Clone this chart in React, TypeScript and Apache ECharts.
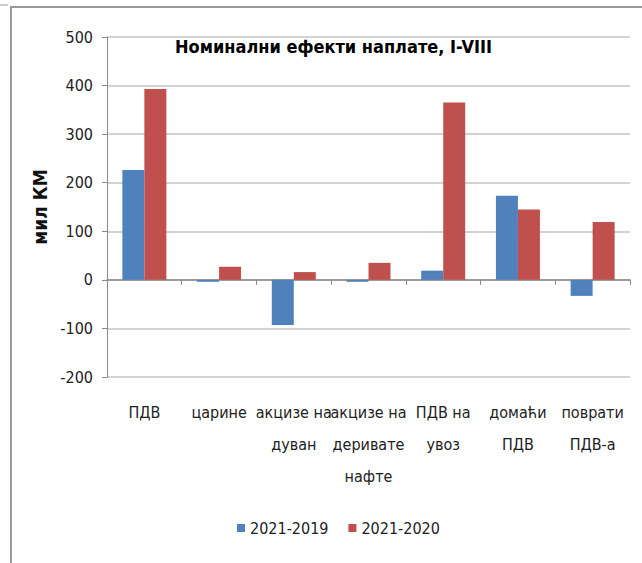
import React, { useEffect, useRef } from "react";
import * as echarts from "echarts";

const categories = [
  "ПДВ",
  "царине",
  "акцизе на\nдуван",
  "акцизе на\nдеривате\nнафте",
  "ПДВ на\nувоз",
  "домаћи\nПДВ",
  "поврати\nПДВ-а",
];
const series2019 = [226, -4, -93, -4, 19, 173, -33];
const series2020 = [393, 27, 16, 35, 365, 145, 119];
const seriesNames = ["2021-2019", "2021-2020"];
const titleText = "Номинални ефекти наплате, I-VIII";
const yName = "мил КМ";

const FONT = "'Liberation Sans Narrow', 'DejaVu Sans Condensed', 'Arial Narrow', sans-serif";

export default function App() {
  const ref = useRef<HTMLDivElement>(null);
  useEffect(() => {
    document.body.style.margin = "0";
    const chart = echarts.init(ref.current!, null, { renderer: "svg" });
    chart.setOption({
      animation: false,
      backgroundColor: "#ffffff",
      textStyle: { fontFamily: FONT },
      graphic: [
        { type: "line", shape: { x1: 10, y1: 7, x2: 642, y2: 7 }, style: { stroke: "#9a9a9a", lineWidth: 2 } },
        { type: "line", shape: { x1: 11, y1: 7, x2: 11, y2: 563 }, style: { stroke: "#9a9a9a", lineWidth: 2 } },
        { type: "line", shape: { x1: 0, y1: 5, x2: 8, y2: 5 }, style: { stroke: "#9a9a9a", lineWidth: 1 } },
        {
          type: "text",
          left: 175,
          top: 37,
          style: { text: titleText, fontSize: 18, fontWeight: "bold", fontFamily: FONT, fill: "#000" },
          z: 10,
        },
      ],
      legend: {
        left: 232,
        top: 515,
        itemWidth: 8,
        itemHeight: 8,
        itemGap: 20,
        icon: "rect",
        textStyle: { fontSize: 16, color: "#222", fontFamily: FONT },
        data: seriesNames,
      },
      grid: { left: 107, right: 12, top: 37, bottom: 186 },
      xAxis: [
        {
          type: "category",
          data: categories,
          position: "bottom",
          axisLine: { show: false, onZero: false },
          axisTick: { show: false },
          axisLabel: {
            interval: 0,
            hideOverlap: false,
            fontSize: 16,
            lineHeight: 32,
            margin: 19,
            color: "#222",
            fontFamily: FONT,
          },
        },
        {
          type: "category",
          data: categories,
          position: "top",
          axisLine: { show: true, onZero: true, lineStyle: { color: "#8a8a8a", width: 1.5 } },
          axisTick: { show: true, inside: true, length: 5, lineStyle: { color: "#8a8a8a" } },
          axisLabel: { show: false },
        },
      ],
      yAxis: {
        type: "value",
        min: -200,
        max: 500,
        interval: 100,
        name: yName,
        nameLocation: "middle",
        nameGap: 50,
        nameTextStyle: { fontSize: 19, fontWeight: "bold", color: "#111", fontFamily: FONT },
        axisLine: { show: true, lineStyle: { color: "#8a8a8a" } },
        axisTick: { show: true, length: 5, lineStyle: { color: "#8a8a8a" } },
        axisLabel: { fontSize: 16, margin: 14, color: "#222", fontFamily: FONT },
        splitLine: { lineStyle: { color: "#c4c4c4", width: 1.5 } },
      },
      series: [
        {
          name: seriesNames[0],
          type: "bar",
          xAxisIndex: 0,
          data: series2019,
          barWidth: 22,
          barGap: "0%",
          itemStyle: { color: "#4F81BD" },
        },
        {
          name: seriesNames[1],
          type: "bar",
          xAxisIndex: 0,
          data: series2020,
          barWidth: 22,
          barGap: "0%",
          itemStyle: { color: "#C0504D" },
        },
      ],
    });
    return () => chart.dispose();
  }, []);
  return <div ref={ref} style={{ width: 642, height: 563 }} />;
}
